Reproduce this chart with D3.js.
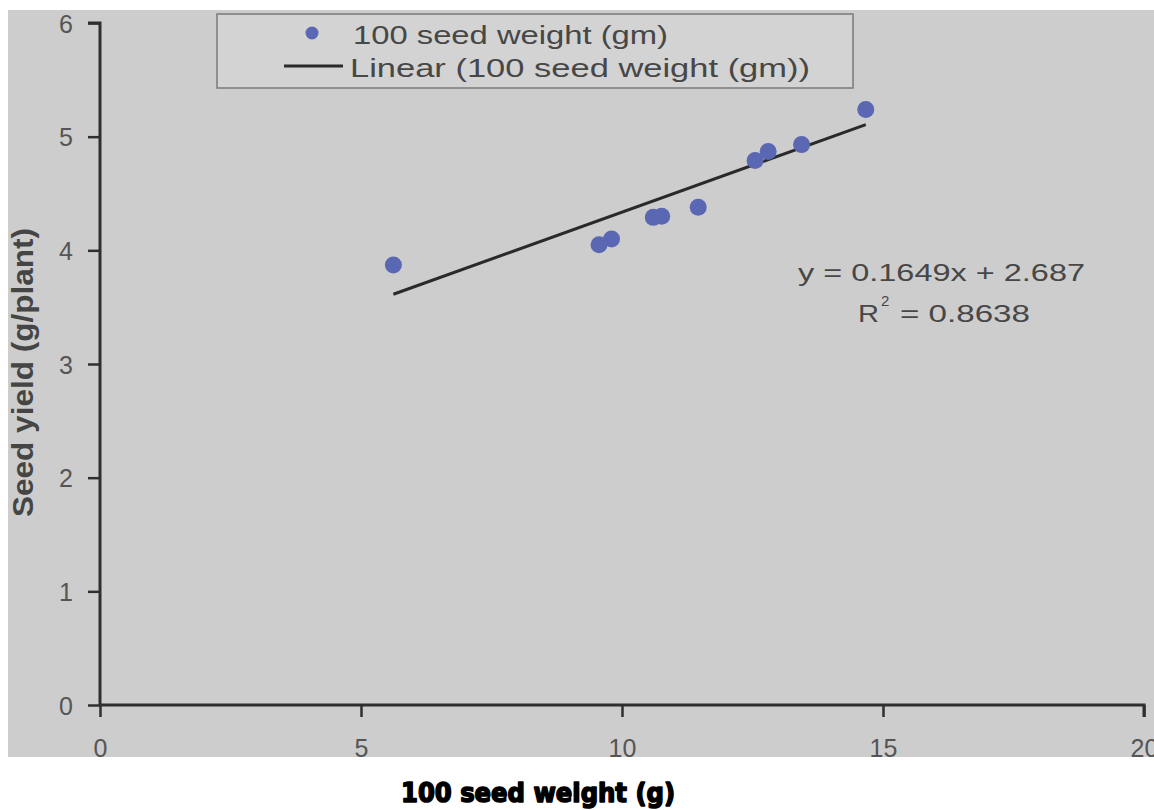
<!DOCTYPE html>
<html>
<head>
<meta charset="utf-8">
<script src="https://cdn.jsdelivr.net/npm/d3@7"></script>
<style>
  html, body { margin: 0; padding: 0; background: #ffffff; }
  svg { display: block; }
</style>
</head>
<body>
<svg id="chart" width="1154" height="810"></svg>
<script>
// 100 seed weight (g) vs seed yield (g/plant)
const seedWeight = [5.62, 9.56, 9.80, 10.60, 10.76, 11.46, 12.55, 12.80, 13.44, 14.67];
const seedYield  = [3.87, 4.05, 4.10, 4.29, 4.30, 4.38, 4.79, 4.87, 4.93, 5.24];

const xTicks = [0, 5, 10, 15, 20];
const yTicks = [0, 1, 2, 3, 4, 5, 6];

// Fitted trend line y = slope * x + intercept
const slope = 0.1649;
const intercept = 2.687;
const equationText = "y = 0.1649x + 2.687";
const r2Value = "0.8638";

const legendLabels = ["100 seed weight (gm)", "Linear (100 seed weight (gm))"];
const xTitle = "100 seed weight (g)";
const yTitle = "Seed yield (g/plant)";

const svg = d3.select("#chart");
const textColor = "#474747";
const axisColor = "#2f2f2f";
const dotColor = "#5a67b2";
const font = "'Liberation Sans', Arial, sans-serif";

// page background
svg.append("rect")
  .attr("x", 8).attr("y", 10)
  .attr("width", 1146).attr("height", 747)
  .attr("fill", "#cdcdcd");

const x = d3.scaleLinear().domain([0, 20]).range([100, 1144]);
const y = d3.scaleLinear().domain([0, 6]).range([705, 23]);

// Y axis
const yAxis = svg.append("g")
  .attr("transform", `translate(${x(0)},0)`)
  .call(d3.axisLeft(y).tickValues(yTicks).tickSize(12).tickPadding(15).tickFormat(d3.format("d")));
yAxis.select(".domain").attr("stroke", axisColor).attr("stroke-width", 3).attr("d", `M-12,${y(6)}H0V${y(0)}`);
yAxis.selectAll(".tick line").attr("stroke", axisColor).attr("stroke-width", 2.5);
yAxis.selectAll(".tick text")
  .attr("fill", "#555").attr("font-size", 25).attr("font-family", font)
  .attr("dy", "0.36em");

// X axis
const xAxis = svg.append("g")
  .attr("transform", `translate(0,${y(0)})`)
  .call(d3.axisBottom(x).tickValues(xTicks).tickSize(12).tickPadding(22).tickFormat(d3.format("d")));
xAxis.select(".domain").attr("stroke", axisColor).attr("stroke-width", 3).attr("d", `M${x(0)},0H${x(20)}V12`);
xAxis.selectAll(".tick line").attr("stroke", axisColor).attr("stroke-width", 2.5);
xAxis.selectAll(".tick text")
  .attr("fill", "#555").attr("font-size", 25).attr("font-family", font);

// trend line over the observed range
const xMin = d3.min(seedWeight), xMax = d3.max(seedWeight);
svg.append("line")
  .attr("x1", x(xMin)).attr("y1", y(slope * xMin + intercept))
  .attr("x2", x(xMax)).attr("y2", y(slope * xMax + intercept))
  .attr("stroke", "#2a2a2a").attr("stroke-width", 3);

// data points
svg.append("g").selectAll("circle")
  .data(d3.zip(seedWeight, seedYield))
  .join("circle")
  .attr("cx", d => x(d[0]))
  .attr("cy", d => y(d[1]))
  .attr("r", 8.5)
  .attr("fill", dotColor);

// legend
const legend = svg.append("g");
legend.append("rect")
  .attr("x", 217).attr("y", 14).attr("width", 636).attr("height", 74)
  .attr("fill", "#d3d3d3").attr("stroke", "#7a7a7a").attr("stroke-width", 1.5);
legend.append("circle").attr("cx", 312).attr("cy", 33).attr("r", 6.5).attr("fill", dotColor);
legend.append("text").attr("x", 353).attr("y", 44)
  .attr("font-size", 25).attr("font-family", font).attr("fill", textColor)
  .attr("textLength", 315).attr("lengthAdjust", "spacingAndGlyphs")
  .text(legendLabels[0]);
legend.append("line").attr("x1", 284).attr("x2", 343).attr("y1", 66).attr("y2", 66)
  .attr("stroke", "#2a2a2a").attr("stroke-width", 3);
legend.append("text").attr("x", 350).attr("y", 77)
  .attr("font-size", 26).attr("font-family", font).attr("fill", textColor)
  .attr("textLength", 460).attr("lengthAdjust", "spacingAndGlyphs")
  .text(legendLabels[1]);

// regression equation
svg.append("text").attr("x", 798).attr("y", 281)
  .attr("font-size", 24).attr("font-family", font).attr("fill", textColor)
  .attr("textLength", 287).attr("lengthAdjust", "spacingAndGlyphs")
  .text(equationText);
svg.append("text").attr("x", 858).attr("y", 322)
  .attr("font-size", 24).attr("font-family", font).attr("fill", textColor)
  .attr("textLength", 21).attr("lengthAdjust", "spacingAndGlyphs")
  .text("R");
svg.append("text").attr("x", 881).attr("y", 272)
  .attr("font-size", 15).attr("font-family", font).attr("fill", textColor)
  .attr("dy", 0).attr("transform", "translate(0,0)")
  .attr("y", 306)
  .text("2");
svg.append("text").attr("x", 900).attr("y", 322)
  .attr("font-size", 24).attr("font-family", font).attr("fill", textColor)
  .attr("textLength", 130).attr("lengthAdjust", "spacingAndGlyphs")
  .text("= " + r2Value);

// axis titles
svg.append("text")
  .attr("transform", `translate(33,517) rotate(-90)`)
  .attr("font-size", 30).attr("font-weight", "bold").attr("font-family", font).attr("fill", "#454545")
  .attr("textLength", 289).attr("lengthAdjust", "spacingAndGlyphs")
  .text(yTitle);

svg.append("text")
  .attr("x", 401).attr("y", 802)
  .attr("font-size", 26).attr("font-weight", 900)
  .attr("font-family", "'DejaVu Sans', sans-serif")
  .attr("textLength", 274).attr("lengthAdjust", "spacingAndGlyphs")
  .attr("fill", "#000")
  .attr("stroke", "#000").attr("stroke-width", 1.6).attr("stroke-linejoin", "round")
  .text(xTitle);
</script>
</body>
</html>
